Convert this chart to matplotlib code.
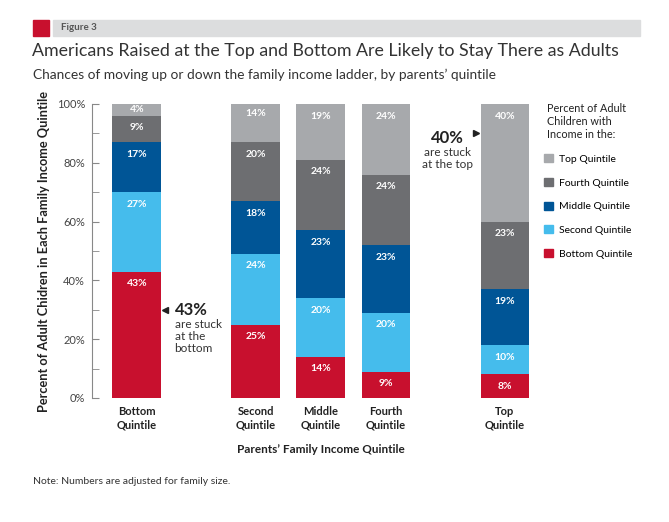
import numpy as np
import matplotlib.pyplot as plt
from matplotlib.patches import Rectangle, Patch

plt.rcParams['font.family'] = ['Lato', 'DejaVu Sans']

# data
parents = ['Bottom\nQuintile', 'Second\nQuintile', 'Middle\nQuintile', 'Fourth\nQuintile', 'Top\nQuintile']
series = ['Bottom Quintile', 'Second Quintile', 'Middle Quintile', 'Fourth Quintile', 'Top Quintile']
bottom_q = [43, 25, 14, 9, 8]
second_q = [27, 24, 20, 20, 10]
middle_q = [17, 18, 23, 23, 19]
fourth_q = [9, 20, 24, 24, 23]
top_q = [4, 14, 19, 24, 40]
values = [bottom_q, second_q, middle_q, fourth_q, top_q]
colors = ['#C8102E', '#45BCEC', '#005596', '#6D6E71', '#A7A9AC']

xpos = np.array([0, 1.83, 2.83, 3.83, 5.66])
width = 0.75

fig = plt.figure(figsize=(6.69, 5.22), dpi=100)
W, H = 669, 522

def px(x, y):
	return x / W, 1 - y / H

# header band
fig.patches.append(Rectangle(px(33, 36), 16 / W, 16 / H, transform=fig.transFigure, color='#C8102E'))
fig.patches.append(Rectangle(px(53, 36), 587 / W, 16 / H, transform=fig.transFigure, color='#DCDDDE'))
fig.text(*px(61, 28), 'Figure 3', fontsize=7, fontweight='bold', color='#555555', va='center')
fig.text(*px(32, 51), 'Americans Raised at the Top and Bottom Are Likely to Stay There as Adults',
	fontsize=12.8, color='#333333', va='center')
fig.text(*px(33, 75), 'Chances of moving up or down the family income ladder, by parents\u2019 quintile',
	fontsize=9.9, color='#333333', va='center')
fig.text(*px(33, 482), 'Note: Numbers are adjusted for family size.', fontsize=7.5, color='#333333', va='center')

ax = fig.add_axes([92 / W, 1 - 398 / H, (540 - 92) / W, 294 / H])
base = np.zeros(len(parents))
for vals, col, name in zip(values, colors, series):
	vals = np.array(vals, dtype=float)
	ax.bar(xpos, vals, width, bottom=base, color=col, label=name)
	for x, lo, v in zip(xpos, base, vals):
		top = lo + v
		y = max(top - 4.1, lo + v / 2)
		ax.text(x, y, '%d%%' % v, ha='center', va='center', color='white',
			fontsize=7.5, fontweight='bold')
	base = base + vals

ax.set_xlim(-0.69, 6.2)
ax.set_ylim(0, 100)
ax.set_yticks(np.arange(0, 101, 20))
ax.set_yticks(np.arange(0, 101, 10), minor=True)
ax.set_yticklabels(['%d%%' % t for t in range(0, 101, 20)])
ax.tick_params(axis='y', direction='in', length=5, color='#888888', labelsize=8, labelcolor='#444444', pad=5)
ax.tick_params(axis='y', which='minor', direction='in', length=5, color='#888888')
ax.set_xticks(xpos)
ax.set_xticklabels(parents, fontsize=8, fontweight='bold', color='#222222')
ax.tick_params(axis='x', length=0, pad=6)
for s in ['top', 'right', 'bottom']:
	ax.spines[s].set_visible(False)
ax.spines['left'].set_color('#888888')
ax.set_xlabel('Parents\u2019 Family Income Quintile', fontsize=8.5, fontweight='bold', color='#222222')
ax.xaxis.set_label_coords((321 - 92) / (540 - 92), -0.155)
ax.set_ylabel('Percent of Adult Chidren in Each Family Income Quintile', fontsize=9.2,
	fontweight='bold', color='#222222', labelpad=5)

# callouts
ax.plot(xpos[0] + 0.44, 30, marker='<', color='#222222', markersize=5, clip_on=False)
ax.text(xpos[0] + 0.58, 30, '43%', fontsize=12, fontweight='bold', color='#222222', va='center')
ax.text(xpos[0] + 0.58, 27, 'are stuck\nat the\nbottom', fontsize=8.5, color='#333333', va='top', linespacing=1.15)
ax.plot(xpos[4] - 0.44, 90, marker='>', color='#222222', markersize=5, clip_on=False)
ax.text(xpos[4] - 0.88, 88.5, '40%', fontsize=12, fontweight='bold', color='#222222', va='center', ha='center')
ax.text(xpos[4] - 0.88, 85.5, 'are stuck\nat the top', fontsize=8.5, color='#333333', va='top', ha='center', linespacing=1.1)

# legend
fig.text(*px(547, 103), 'Percent of Adult\nChildren with\nIncome in the:', fontsize=7.8,
	color='#222222', va='top', ha='left', linespacing=1.2)
handles = [Patch(color=c, label=n) for c, n in zip(colors, series)][::-1]
leg = fig.legend(handles=handles, loc='upper left', bbox_to_anchor=px(535, 145),
	fontsize=7.5, frameon=False, handlelength=0.8, handleheight=0.8, handletextpad=0.6,
	labelspacing=1.35)

fig.savefig('out.png', dpi=100)
